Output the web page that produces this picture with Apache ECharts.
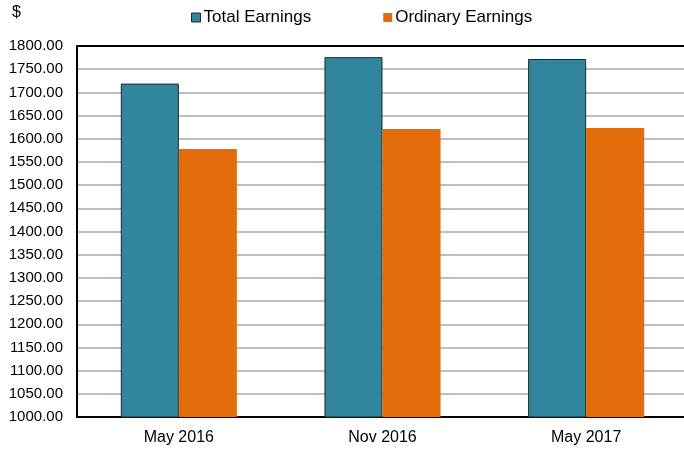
<!DOCTYPE html>
<html>
<head>
<meta charset="utf-8">
<script src="https://cdn.jsdelivr.net/npm/echarts@6/dist/echarts.min.js"></script>
<style>
  html, body { margin: 0; padding: 0; background: #fff; overflow: hidden; }
  #chart { width: 700px; height: 452px; }
</style>
</head>
<body>
<div id="chart"></div>
<script>
const categories = ['May 2016', 'Nov 2016', 'May 2017'];
const totalEarnings = [1719, 1776, 1772];
const ordinaryEarnings = [1578, 1621, 1623];
const seriesNames = ['Total Earnings', 'Ordinary Earnings'];

const chart = echarts.init(document.getElementById('chart'));
const font = 'Liberation Sans, Arial, sans-serif';

const option = {
  animation: false,
  backgroundColor: '#fff',
  textStyle: { fontFamily: font },
  graphic: [
    {
      type: 'text', left: 12, top: 5,
      style: { text: '$', font: '16px ' + font, fill: '#000' },
    },
    // top frame line
    {
      type: 'line',
      shape: { x1: 77, y1: 46, x2: 700, y2: 46 },
      style: { stroke: '#000', lineWidth: 2 },
      z: 10,
    },
  ],
  legend: {
    top: 4,
    left: 186,
    itemGap: 72,
    itemWidth: 9,
    itemHeight: 9,
    icon: 'rect',
    textStyle: { fontSize: 17, color: '#000', fontFamily: font, padding: [0, 0, 0, -2] },
    data: [
      { name: seriesNames[0], itemStyle: { borderColor: '#1a2a30', borderWidth: 1 } },
      { name: seriesNames[1], itemStyle: { borderWidth: 0 } },
    ],
  },
  grid: { left: 77, top: 46, width: 611, height: 371 },
  xAxis: {
    type: 'category',
    data: categories,
    axisLine: { lineStyle: { color: '#000', width: 2 } },
    axisTick: { show: false },
    axisLabel: { color: '#000', fontSize: 16, margin: 13, fontFamily: font },
  },
  yAxis: {
    type: 'value',
    min: 1000,
    max: 1800,
    interval: 50,
    axisLine: { show: true, lineStyle: { color: '#000', width: 2 } },
    axisTick: { show: false },
    axisLabel: {
      color: '#000', fontSize: 15, margin: 14, fontFamily: font,
      formatter: (v) => v.toFixed(2),
    },
    splitLine: { lineStyle: { color: '#bfbfbf', width: 2 } },
  },
  series: [
    {
      name: seriesNames[0],
      type: 'bar',
      data: totalEarnings,
      barGap: '0%',
      barCategoryGap: '43%',
      itemStyle: { color: '#31859c', borderColor: '#1a2a30', borderWidth: 1 },
    },
    {
      name: seriesNames[1],
      type: 'bar',
      data: ordinaryEarnings,
      itemStyle: { color: '#e46c0a' },
    },
  ],
};

chart.setOption(option);
</script>
</body>
</html>
